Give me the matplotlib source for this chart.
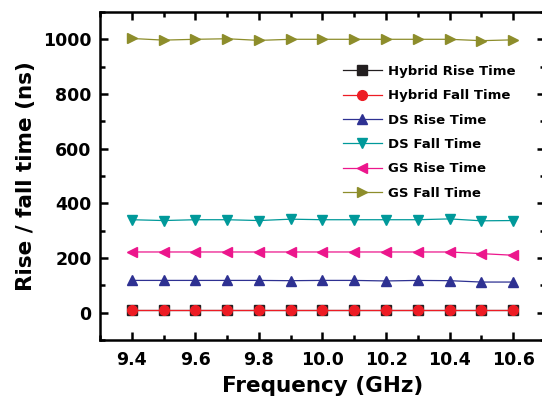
import numpy as np
import matplotlib
matplotlib.use("Agg")
import matplotlib.pyplot as plt
from matplotlib.ticker import MultipleLocator

# data
freq = [9.4, 9.5, 9.6, 9.7, 9.8, 9.9, 10.0, 10.1, 10.2, 10.3, 10.4, 10.5, 10.6]
hybrid_rise = [10, 10, 10, 10, 10, 10, 10, 10, 10, 10, 10, 10, 10]
hybrid_fall = [10, 10, 10, 10, 10, 10, 10, 10, 10, 10, 10, 10, 10]
ds_rise = [118, 118, 118, 118, 118, 117, 118, 118, 116, 118, 117, 112, 112]
ds_fall = [340, 337, 340, 340, 337, 342, 340, 340, 340, 340, 343, 336, 337]
gs_rise = [222, 222, 222, 222, 222, 222, 222, 222, 222, 222, 222, 216, 210]
gs_fall = [1003, 997, 1000, 1002, 996, 1000, 1000, 1000, 1000, 1000, 1000, 995, 998]

series = [
    ("Hybrid Rise Time", hybrid_rise, "#231f20", "s"),
    ("Hybrid Fall Time", hybrid_fall, "#ed1c24", "o"),
    ("DS Rise Time", ds_rise, "#2e3192", "^"),
    ("DS Fall Time", ds_fall, "#00999a", "v"),
    ("GS Rise Time", gs_rise, "#ec168c", "<"),
    ("GS Fall Time", gs_fall, "#8d8d2b", ">"),
]

# wide bold sans to match the stretched look of the original
plt.rcParams['font.family'] = ['DejaVu Sans']
plt.rcParams['font.weight'] = 'bold'

fig = plt.figure(figsize=(5.42, 4.04), dpi=100)
ax = fig.add_axes([0.1845, 0.1584, 0.821, 0.812])

for label, vals, col, mk in series:
    ax.plot(freq, vals, color=col, marker=mk, markersize=7, linewidth=0.9,
            label=label)

ax.set_xlim(9.3, 10.7)
ax.set_ylim(-100, 1100)
ax.xaxis.set_major_locator(MultipleLocator(0.2))
ax.xaxis.set_minor_locator(MultipleLocator(0.1))
ax.yaxis.set_major_locator(MultipleLocator(200))
ax.yaxis.set_minor_locator(MultipleLocator(100))
ax.tick_params(which='both', direction='in', top=True, right=True, width=1.8)
ax.tick_params(which='major', length=6, labelsize=12.5)
ax.tick_params(axis='x', which='major', pad=8)
ax.tick_params(axis='y', which='major', pad=6)
ax.tick_params(which='minor', length=3.5)
for lab in ax.get_xticklabels() + ax.get_yticklabels():
    lab.set_fontweight('bold')
for sp in ax.spines.values():
    sp.set_linewidth(1.8)

ax.set_xlabel("Frequency (GHz)", fontsize=15.5, fontweight='bold', labelpad=5)
ax.set_ylabel("Rise / fall time (ns)", fontsize=15.5, fontweight='bold', labelpad=5)

leg = ax.legend(loc='upper left', bbox_to_anchor=(0.52, 0.875), frameon=False,
                prop={'size': 9.5, 'weight': 'bold'}, handlelength=2.9,
                labelspacing=0.86, handletextpad=0.5)

fig.savefig("out.png", dpi=100)
